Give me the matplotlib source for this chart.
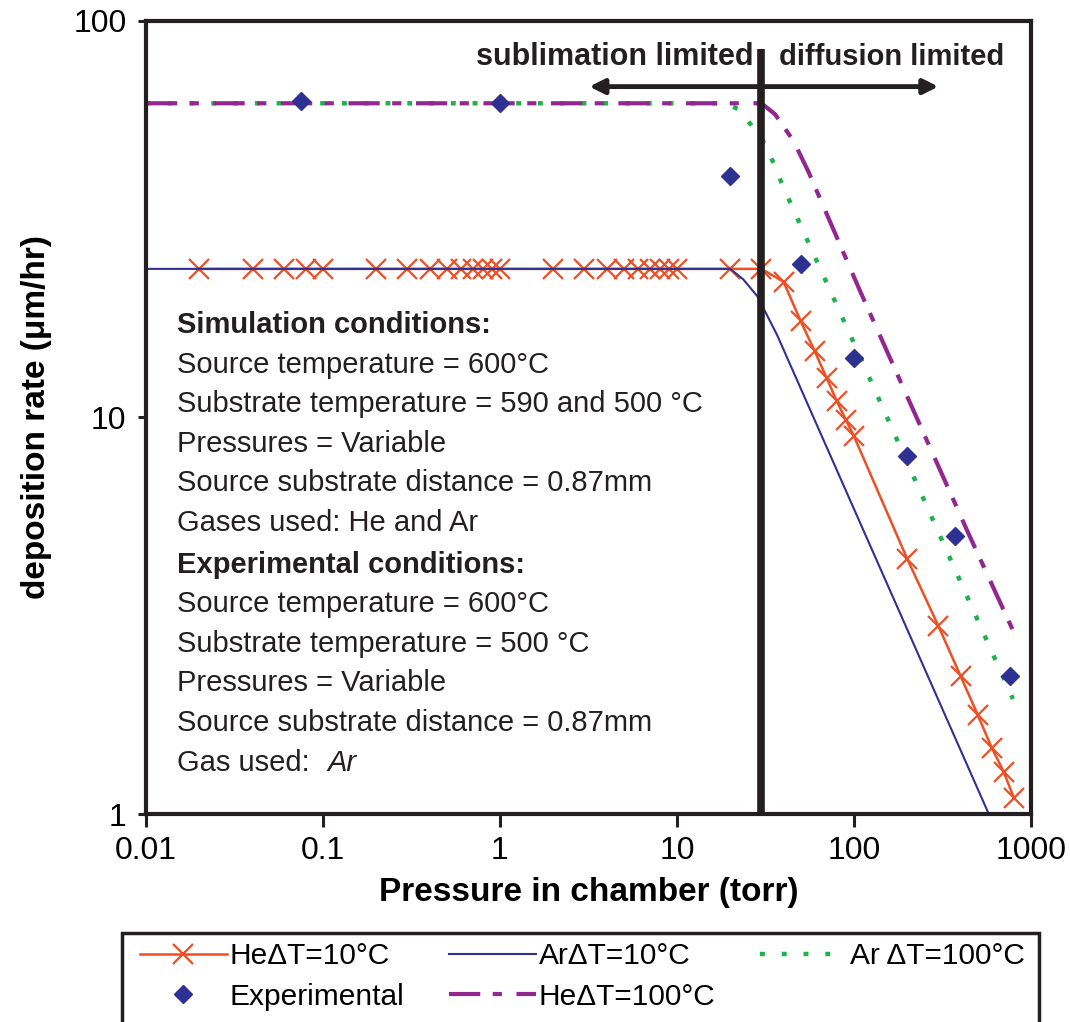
import matplotlib
matplotlib.use("Agg")
import matplotlib.pyplot as plt
from matplotlib.patches import Rectangle

plt.rcParams['font.family'] = ['Liberation Sans', 'DejaVu Sans']

# data (pressure in torr, rate in um/hr)
he10_p = [0.02, 0.04, 0.06, 0.08, 0.1, 0.2, 0.3, 0.4, 0.5, 0.6, 0.7, 0.8, 0.9, 1,
          2, 3, 4, 5, 6, 7, 8, 9, 10, 20, 30, 40, 50, 60, 70, 80, 90, 100,
          200, 300, 400, 500, 600, 700, 800]
he10_rate = [23.7, 23.7, 23.7, 23.7, 23.7, 23.7, 23.7, 23.7, 23.7, 23.7, 23.7, 23.7, 23.7, 23.7,
             23.7, 23.7, 23.7, 23.7, 23.7, 23.7, 23.7, 23.7, 23.7, 23.7, 23.7, 22.0, 17.5, 14.7, 12.6, 11.0, 9.86, 8.97,
             4.40, 2.98, 2.23, 1.78, 1.47, 1.28, 1.10]

ar10_p = [0.01, 20, 23.7, 28.5, 36.9, 578]
ar10_rate = [23.7, 23.7, 22.3, 20.2, 16.1, 1.0]

ar100_p = [0.01, 19, 22, 26, 32, 40, 95.6, 791]
ar100_rate = [62, 62, 60, 55, 48.4, 38, 16.1, 1.95]

he100_p = [0.01, 30, 35.8, 45.6, 55.4, 109, 440, 813]
he100_rate = [62, 62, 58.2, 49.8, 41.6, 20.7, 5.14, 2.83]

exp_p = [0.075, 1, 20, 50, 100, 200, 370, 760]
exp_rate = [62.8, 62, 40.6, 24.4, 14.1, 8.0, 5.02, 2.23]

xticks = [0.01, 0.1, 1, 10, 100, 1000]
xticklabels = ['0.01', '0.1', '1', '10', '100', '1000']
yticks = [1, 10, 100]
yticklabels = ['1', '10', '100']

notes = [("Simulation conditions:", True),
         ("Source temperature = 600°C", False),
         ("Substrate temperature = 590 and 500 °C", False),
         ("Pressures = Variable", False),
         ("Source substrate distance = 0.87mm", False),
         ("Gases used: He and Ar", False),
         ("Experimental conditions:", True),
         ("Source temperature = 600°C", False),
         ("Substrate temperature = 500 °C", False),
         ("Pressures = Variable", False),
         ("Source substrate distance = 0.87mm", False),
         ("Gas used:", False)]

red = '#f04e23'
blue = '#2e3192'
green = '#1fb14b'
purple = '#92278f'
black = '#231f20'

fig = plt.figure(figsize=(10.7, 10.22), dpi=100)
ax = fig.add_axes([0.1364, 0.2035, 0.8271, 0.776])

l_he10, = ax.plot(he10_p, he10_rate, color=red, lw=1.8, marker='x', ms=15, mew=1.6,
                  label='HeΔT=10°C')
l_ar10, = ax.plot(ar10_p, ar10_rate, color=blue, lw=1.5, label='ArΔT=10°C')
l_ar100, = ax.plot(ar100_p, ar100_rate, color=green, lw=3.2, dashes=(1.1, 3.8),
                   label='Ar ΔT=100°C')
l_he100, = ax.plot(he100_p, he100_rate, color=purple, lw=3, dashes=(7.5, 3, 2.2, 3.5),
                   label='HeΔT=100°C')
l_exp, = ax.plot(exp_p, exp_rate, ls='none', marker='D', ms=9, color=blue,
                 label='Experimental', zorder=5)

# regime divider and arrow
ax.plot([30, 30], [1, 85], color=black, lw=5.5, solid_capstyle='butt', zorder=6)
ax.annotate('', xy=(3.2, 68.3), xytext=(300, 68.3),
            arrowprops=dict(arrowstyle='<|-|>', color=black, lw=3.5, mutation_scale=22,
                            shrinkA=0, shrinkB=0))
ax.text(27, 81, 'sublimation limited', ha='right', va='center', fontsize=22,
        fontweight='bold', color=black)
ax.text(37.8, 81, 'diffusion limited', ha='left', va='center', fontsize=21,
        fontweight='bold', color=black)

ax.set_xscale('log')
ax.set_yscale('log')
ax.set_xlim(0.01, 1000)
ax.set_ylim(1, 100)
ax.set_xticks(xticks)
ax.set_xticklabels(xticklabels)
ax.set_yticks(yticks)
ax.set_yticklabels(yticklabels)
ax.minorticks_off()
ax.tick_params(axis='x', direction='out', length=9, width=2.2, labelsize=23, pad=7,
               color=black)
ax.tick_params(axis='y', direction='out', length=6, width=2.2, labelsize=23, pad=8,
               color=black)
for s in ax.spines.values():
    s.set_linewidth(3)
    s.set_color(black)

ax.set_xlabel('Pressure in chamber (torr)', fontsize=24, fontweight='bold')
ax.set_ylabel('deposition rate (μm/hr)', fontsize=24, fontweight='bold')
ax.xaxis.set_label_coords(0.5, -0.08)
ax.yaxis.set_label_coords(-0.106, 0.5)

# condition notes
y0 = 1 - 325 / 1022
for i, (txt, bold) in enumerate(notes):
    yy = y0 - i * 39.6 / 1022
    if i >= 6:
        yy -= 2 / 1022
    fig.text(177 / 1070, yy, txt, fontsize=21, va='center', ha='left',
             fontweight='bold' if bold else 'normal', color=black)
fig.text(327 / 1070, y0 - 11 * 39.6 / 1022 - 2 / 1022, 'Ar', fontsize=21, va='center',
         ha='left', style='italic', color=black)

# legend, frame drawn separately so it runs past the bottom edge like the original
fig.patches.append(Rectangle((122 / 1070, -0.05), 917 / 1070, 0.05 + 89 / 1022,
                             transform=fig.transFigure, fill=False, lw=2.5,
                             edgecolor=black, zorder=10))
leg = fig.legend([l_he10, l_exp, l_ar10, l_he100, l_ar100],
                 ['HeΔT=10°C', 'Experimental', 'ArΔT=10°C', 'HeΔT=100°C', 'Ar ΔT=100°C'],
                 ncol=3, loc='upper left', bbox_to_anchor=(134 / 1070, 1 - 936 / 1022),
                 fontsize=21.5, frameon=False, handlelength=2.9, handletextpad=0.1,
                 labelspacing=0.42, borderpad=0.2, borderaxespad=0, columnspacing=1.5,
                 numpoints=1)

fig.savefig('out.png', dpi=100)
